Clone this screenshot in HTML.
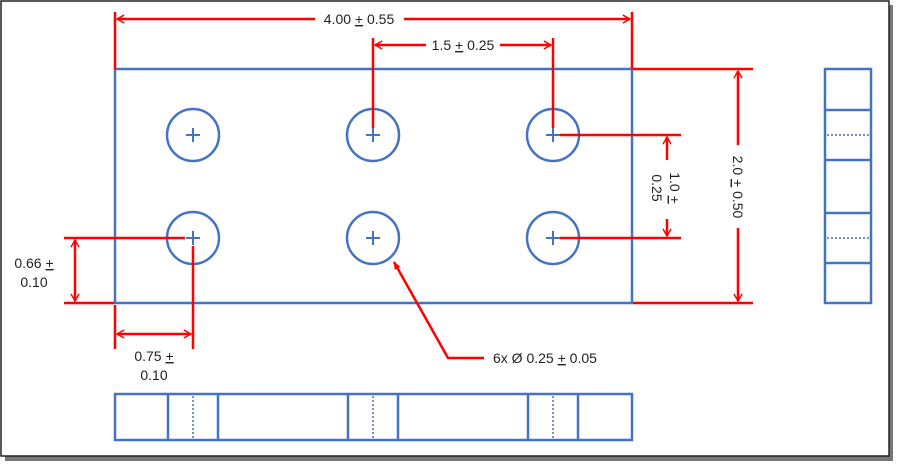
<!DOCTYPE html>
<html><head><meta charset="utf-8"><style>
html,body{margin:0;padding:0;background:#fff;}
svg{display:block;}
text{font-family:"Liberation Sans",sans-serif;font-size:14px;fill:#222;}
</style></head><body>
<svg width="900" height="468" viewBox="0 0 900 468" xmlns="http://www.w3.org/2000/svg">
<defs>
<marker id="a" viewBox="0 0 10 10" refX="9" refY="5" markerWidth="9" markerHeight="9" orient="auto-start-reverse" markerUnits="userSpaceOnUse">
<path d="M1,0.5 L9,5 L1,9.5" fill="none" stroke="#f00" stroke-width="1.6"/>
</marker>
<marker id="b" viewBox="0 0 10 10" refX="9" refY="5" markerWidth="8" markerHeight="8" orient="auto" markerUnits="userSpaceOnUse">
<path d="M0,1 L10,5 L0,9 z" fill="#f00"/>
</marker>
</defs>
<rect x="5" y="5" width="888" height="456" fill="#777"/>
<rect x="1" y="1" width="888" height="455" fill="#fff" stroke="#222" stroke-width="1.5"/>

<g stroke="#4472c4" stroke-width="2.5" fill="none">
<rect x="115" y="69" width="517" height="234"/>
<circle cx="193" cy="135" r="26"/><circle cx="373" cy="135" r="26"/><circle cx="553" cy="135" r="26"/>
<circle cx="193" cy="238" r="26"/><circle cx="373" cy="238" r="26"/><circle cx="553" cy="238" r="26"/>
<g stroke-width="2">
<path d="M186,135h14M193,128v14M366,135h14M373,128v14M546,135h14M553,128v14"/>
<path d="M186,238h14M193,231v14M366,238h14M373,231v14M546,238h14M553,231v14"/>
</g>
<rect x="115" y="394" width="517" height="46"/>
<path d="M168,394v46M218,394v46M348,394v46M398,394v46M528,394v46M578,394v46"/>
<rect x="825" y="69" width="46" height="234"/>
<path d="M825,110h46M825,160h46M825,213h46M825,263h46"/>
</g>
<g stroke="#4472c4" stroke-width="1.5" stroke-dasharray="2,2">
<path d="M193,396v42M373,396v42M553,396v42M827,135h42M827,238h42"/>
</g>

<g stroke="#f00" stroke-width="2.5" fill="none">
<path d="M115,12v57M632,12v57"/>
<path d="M315,19H117" marker-end="url(#a)"/>
<path d="M404,19H630" marker-end="url(#a)"/>
<path d="M373,38v90M553,38v90"/>
<path d="M426,45H375" marker-end="url(#a)"/>
<path d="M500,45H551" marker-end="url(#a)"/>
<path d="M633,69h120M633,303h120"/>
<path d="M738,145V71" marker-end="url(#a)"/>
<path d="M738,228V301" marker-end="url(#a)"/>
<path d="M560,135h121M560,238h121"/>
<path d="M667,160V137" marker-end="url(#a)"/>
<path d="M667,219V236" marker-end="url(#a)"/>
<path d="M64,238h121M64,303h50"/>
<path d="M75,240V301" marker-end="url(#a)" marker-start="url(#a)"/>
<path d="M115,305v44M193,246v103"/>
<path d="M117,334H191" marker-end="url(#a)" marker-start="url(#a)"/>
<path d="M484,358H448L394,262" marker-end="url(#b)"/>
</g>

<text x="359" y="24" text-anchor="middle">4.00 <tspan text-decoration="underline">+</tspan> 0.55</text>
<text x="463" y="50" text-anchor="middle">1.5 <tspan text-decoration="underline">+</tspan> 0.25</text>
<text transform="translate(733,187) rotate(90)" text-anchor="middle">2.0 <tspan text-decoration="underline">+</tspan> 0.50</text>
<text transform="translate(670,188) rotate(90)" text-anchor="middle">1.0 <tspan text-decoration="underline">+</tspan></text>
<text transform="translate(652,188) rotate(90)" text-anchor="middle">0.25</text>
<text x="34" y="268" text-anchor="middle">0.66 <tspan text-decoration="underline">+</tspan></text>
<text x="34" y="287" text-anchor="middle">0.10</text>
<text x="154" y="361" text-anchor="middle">0.75 <tspan text-decoration="underline">+</tspan></text>
<text x="154" y="380" text-anchor="middle">0.10</text>
<text x="493" y="363">6x Ø 0.25 <tspan text-decoration="underline">+</tspan> 0.05</text>
</svg>
</body></html>
